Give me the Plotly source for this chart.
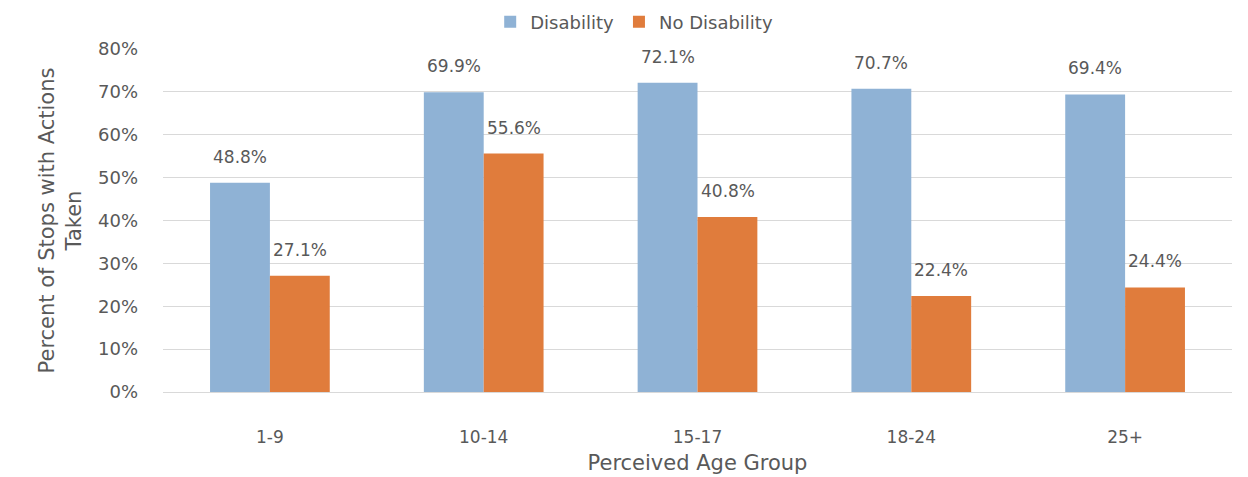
import plotly.graph_objects as go

categories = ["1-9", "10-14", "15-17", "18-24", "25+"]
disability = [48.8, 69.9, 72.1, 70.7, 69.4]
no_disability = [27.1, 55.6, 40.8, 22.4, 24.4]
y_ticks = [0, 10, 20, 30, 40, 50, 60, 70, 80]
y_tick_labels = [f"{v}%" for v in y_ticks]

FONT = "DejaVu Sans"
GRAY = "#595959"

fig = go.Figure()
fig.add_trace(go.Bar(name="Disability", x=categories, y=disability,
                     marker_color="#8FB2D5", marker_line_width=0))
fig.add_trace(go.Bar(name="No Disability", x=categories, y=no_disability,
                     marker_color="#E07C3C", marker_line_width=0))

# data labels above bars
for i, c in enumerate(categories):
    fig.add_annotation(x=c, y=disability[i], text=f"{disability[i]:.1f}%", xref="x", yref="y",
                       showarrow=False, xshift=-30, yshift=26, font=dict(size=17, color=GRAY, family=FONT))
    fig.add_annotation(x=c, y=no_disability[i], text=f"{no_disability[i]:.1f}%", xref="x", yref="y",
                       showarrow=False, xshift=30, yshift=26, font=dict(size=17, color=GRAY, family=FONT))

fig.update_layout(
    width=1240, height=469,
    margin=dict(l=155, r=16, t=41, b=85, autoexpand=False),
    paper_bgcolor="white", plot_bgcolor="white",
    barmode="group", bargap=0.44, bargroupgap=0,
    font=dict(family=FONT, color=GRAY, size=15),
    legend=dict(orientation="h", x=0.505, xanchor="center", xref="container",
                y=0.97, yanchor="middle", yref="container",
                font=dict(size=18, color=GRAY), traceorder="normal"),
    xaxis=dict(showline=True, linecolor="#D9D9D9", linewidth=1, ticks="", automargin=False,
               tickfont=dict(size=17, color=GRAY), ticklabelstandoff=30,
               title=dict(text="Perceived Age Group", font=dict(size=21, color=GRAY), standoff=8)),
    yaxis=dict(range=[0, 80], tickvals=y_ticks, ticktext=y_tick_labels, automargin=False,
               showgrid=True, gridcolor="#D9D9D9", gridwidth=1, zeroline=False,
               tickfont=dict(size=18, color=GRAY), ticklabelstandoff=24,
               title=dict(text="Percent of Stops with Actions<br>Taken",
                          font=dict(size=21, color=GRAY), standoff=10)),
)

fig.write_html("out.html")
